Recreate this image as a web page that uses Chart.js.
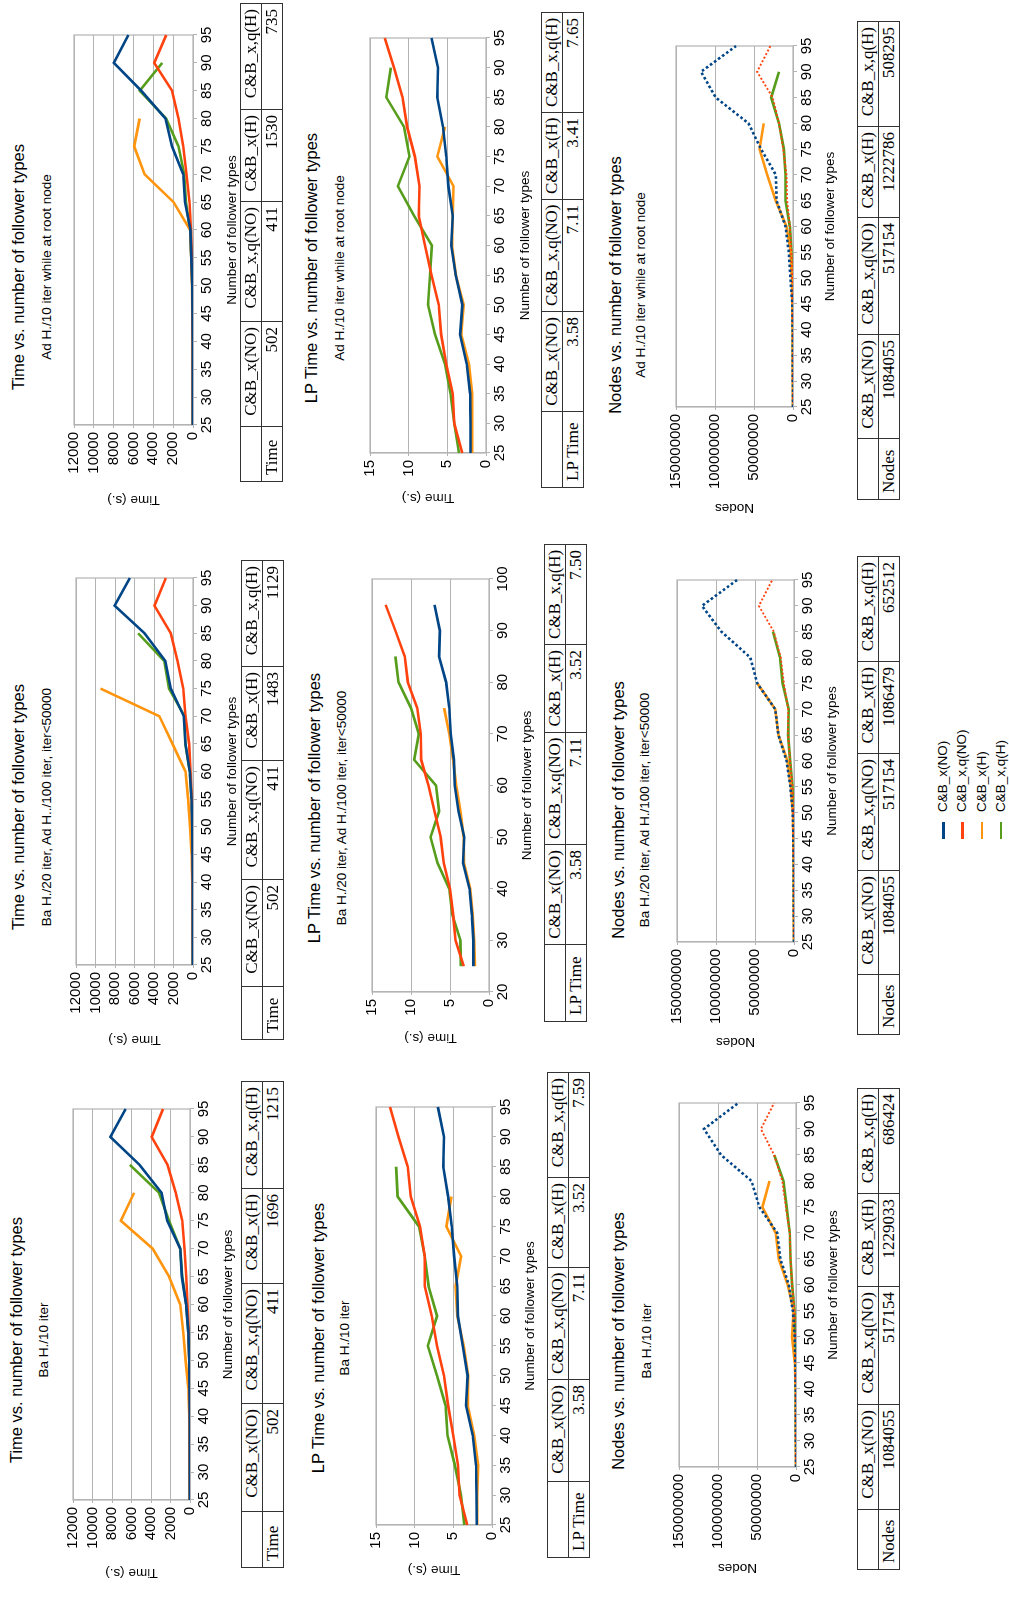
<!DOCTYPE html>
<html>
<head>
<meta charset="utf-8">
<script src="https://cdn.jsdelivr.net/npm/chart.js@4.4.1/dist/chart.umd.min.js"></script>
<style>
  html, body { margin: 0; padding: 0; background: #fff; width: 1009px; height: 1597px; overflow: hidden; }
  #page { position: absolute; left: 0; top: 0; width: 1597px; height: 1009px;
          transform-origin: 0 0; transform: translateY(1597px) rotate(-90deg);
          font-family: 'Liberation Sans', Arial, sans-serif; color: #000; }
  .ttl { position: absolute; width: 600px; text-align: center; white-space: nowrap; line-height: 1.2; }
  canvas { position: absolute; }
  table.res { position: absolute; border-collapse: collapse; table-layout: fixed;
              font-family: 'Liberation Serif', 'Times New Roman', serif; font-size: 17px; }
  table.res td { border: 1.4px solid #333; height: 20px; line-height: 20px; padding: 0 5px;
                 text-align: right; white-space: nowrap; overflow: visible; }
  table.res td.lbl { text-align: left; padding-left: 6px; }
  .leg { position: absolute; font-size: 13.5px; line-height: 18px; white-space: nowrap; }
  .leg i { position: absolute; left: 0; top: 8px; width: 17px; height: 2.5px; }
  .leg span { position: absolute; left: 27px; top: 0; }
</style>
</head>
<body>
<div id="page"></div>
<script>
// ═══ DATA ═══
const followerTypes = [25, 30, 35, 40, 45, 50, 55, 60, 65, 70, 75, 80, 85, 90, 95];
const seriesNames  = ['C&B_x(NO)', 'C&B_x,q(NO)', 'C&B_x(H)', 'C&B_x,q(H)'];
const seriesColors = ['#004586', '#ff420e', '#ff950e', '#579d1c'];

const timeTicks  = [0, 2000, 4000, 6000, 8000, 10000, 12000];
const lpTicks    = [0, 5, 10, 15];
const nodesTicks = [0, 50000000, 100000000, 150000000];
const lpBa20XTicks = [20, 30, 40, 50, 60, 70, 80, 90, 100];

// Time (s.)
const timeBa10_xNO  = [10, 15, 20, 30, 50, 80, 170, 400, 830, 1000, 2330, 2930, 5170, 8170, 6600];
const timeBa10_xqNO = [5, 10, 15, 25, 40, 70, 140, 250, 380, 560, 800, 1450, 2300, 3930, 2770];
const timeBa10_xH   = [10, 20, 40, 80, 170, 450, 700, 1000, 2150, 3830, 7100, 5730, null, null, null];
const timeBa10_xqH  = [10, 15, 20, 30, 50, 80, 170, 380, 800, 1000, 2150, 3170, 6170, null, null];

const timeBa20_xNO  = [10, 15, 20, 30, 50, 80, 160, 335, 770, 940, 2280, 2850, 4960, 8045, 6470];
const timeBa20_xqNO = [5, 10, 15, 25, 40, 70, 130, 250, 400, 770, 1000, 1600, 2280, 3955, 2780];
const timeBa20_xH   = [10, 20, 40, 80, 150, 300, 500, 770, 2100, 3450, 9490, null, null, null, null];
const timeBa20_xqH  = [10, 15, 20, 30, 50, 80, 160, 320, 800, 870, 2450, 2950, 5630, null, null];

const timeAd10_xNO  = [10, 15, 20, 30, 50, 80, 160, 260, 815, 980, 2120, 2770, 5220, 7990, 6520];
const timeAd10_xqNO = [5, 10, 15, 25, 40, 70, 120, 200, 350, 650, 980, 1470, 2120, 3910, 2700];
const timeAd10_xH   = [10, 15, 25, 40, 60, 100, 170, 280, 1960, 4890, 5930, 5380, null, null, null];
const timeAd10_xqH  = [10, 15, 20, 30, 50, 80, 160, 300, 700, 880, 1470, 2700, 5380, 3100, null];

// LP Time (s.)
const lpBa10_xNO  = [1.97, 2.0, 2.06, 2.5, 3.36, 3.15, 3.78, 4.41, 4.5, 4.9, 5.2, 5.67, 6.3, 6.2, 7.0];
const lpBa10_xqNO = [3.2, 4.2, 4.4, 5.0, 5.67, 6.2, 7.1, 7.8, 8.7, 8.7, 9.3, 10.5, 10.9, 12.1, 13.2];
const lpBa10_xH   = [1.9, 1.9, 1.8, 2.3, 3.15, 3.07, 3.66, 4.5, 4.7, 4.0, 5.9, 5.25, null, null, null];
const lpBa10_xqH  = [3.57, 4.0, 4.8, 5.75, 6.0, 7.1, 8.3, 7.1, 8.2, 8.7, 9.45, 12.2, 12.4, null, null];

const lpBa20_xNO  = [2.0, 2.0, 2.2, 2.5, 3.33, 3.17, 3.9, 4.4, 4.5, 4.9, 5.1, 5.5, 6.4, 6.3, 7.0];
const lpBa20_xqNO = [3.25, 4.3, 4.6, 5.0, 5.8, 6.2, 7.0, 7.75, 8.7, 8.75, 9.2, 10.4, 10.8, 12.0, 13.25];
const lpBa20_xH   = [1.8, 1.9, 2.1, 2.4, 3.2, 3.25, 3.67, 4.2, 4.6, 5.1, 5.75, null, null, null, null];
const lpBa20_xqH  = [3.6, 3.67, 4.7, 5.1, 6.6, 7.5, 6.4, 6.8, 9.6, 9.0, 10.0, 11.6, 12.0, null, null];

const lpAd10_xNO  = [2.0, 2.0, 2.05, 2.5, 3.35, 3.06, 3.9, 4.5, 4.3, 4.86, 5.15, 5.57, 6.3, 6.2, 7.04];
const lpAd10_xqNO = [3.06, 4.1, 4.3, 5.15, 5.8, 6.1, 7.04, 7.9, 8.7, 8.6, 9.2, 10.2, 10.8, 11.9, 13.1];
const lpAd10_xH   = [1.8, 1.8, 1.8, 2.2, 3.2, 2.9, 3.9, 4.4, 4.3, 4.2, 6.3, 5.3, null, null, null];
const lpAd10_xqH  = [3.5, 4.1, 4.6, 5.3, 6.6, 7.5, 7.25, 7.0, 9.3, 11.4, 9.9, 10.6, 12.9, 12.3, null];

// Nodes
const nodesBa10_xNO  = [50000, 100000, 200000, 400000, 800000, 1500000, 4000000, 9200000, 20000000, 24000000, 47000000, 57000000, 96000000, 118000000, 74000000];
const nodesBa10_xqNO = [30000, 60000, 100000, 200000, 400000, 800000, 2000000, 5000000, 7000000, 8000000, 13000000, 17500000, 28000000, 45000000, 28000000];
const nodesBa10_xH   = [50000, 100000, 200000, 400000, 1500000, 5000000, 3000000, 10500000, 22000000, 26000000, 43000000, 34000000, null, null, null];
const nodesBa10_xqH  = [30000, 60000, 100000, 200000, 400000, 800000, 2000000, 5000000, 7000000, 8000000, 12000000, 16000000, 28000000, null, null];

const nodesBa20_xNO  = [50000, 100000, 200000, 400000, 800000, 1500000, 4600000, 9600000, 20000000, 24000000, 47000000, 56000000, 93000000, 118000000, 73000000];
const nodesBa20_xqNO = [30000, 60000, 100000, 200000, 400000, 800000, 2000000, 5000000, 7500000, 7500000, 13000000, 17000000, 26000000, 45000000, 28000000];
const nodesBa20_xH   = [50000, 100000, 200000, 400000, 800000, 1500000, 4000000, 8300000, 20000000, 24000000, 47000000, null, null, null, null];
const nodesBa20_xqH  = [30000, 60000, 100000, 200000, 400000, 800000, 2000000, 5000000, 7500000, 6700000, 14600000, 18000000, 27000000, null, null];

const nodesAd10_xNO  = [50000, 100000, 200000, 400000, 800000, 3300000, 5400000, 9600000, 21000000, 22000000, 41000000, 57000000, 99000000, 118000000, 73000000];
const nodesAd10_xqNO = [30000, 60000, 100000, 200000, 400000, 800000, 2000000, 4000000, 7500000, 8300000, 12500000, 18000000, 26000000, 46000000, 29000000];
const nodesAd10_xH   = [50000, 100000, 200000, 400000, 800000, 1500000, 3000000, 8300000, 22000000, 33000000, 43000000, 37500000, null, null, null];
const nodesAd10_xqH  = [30000, 60000, 100000, 200000, 400000, 800000, 2000000, 4000000, 9600000, 9600000, 11700000, 18000000, 28000000, 18000000, null];

// Summary tables
const tblTimeBa10  = ['502', '411', '1696', '1215'];
const tblTimeBa20  = ['502', '411', '1483', '1129'];
const tblTimeAd10  = ['502', '411', '1530', '735'];
const tblLpBa10    = ['3.58', '7.11', '3.52', '7.59'];
const tblLpBa20    = ['3.58', '7.11', '3.52', '7.50'];
const tblLpAd10    = ['3.58', '7.11', '3.41', '7.65'];
const tblNodesBa10 = ['1084055', '517154', '1229033', '686424'];
const tblNodesBa20 = ['1084055', '517154', '1086479', '652512'];
const tblNodesAd10 = ['1084055', '517154', '1222786', '508295'];

const subBa10 = 'Ba H./10 iter';
const subAd10 = 'Ad H./10 iter while at root node';

// ═══ PANELS (layout in upright page coords) ═══
const panels = [
  { title: 'Time vs. number of follower types', sub: subBa10, yTitle: 'Time (s.)', yTicks: timeTicks,
    series: [timeBa10_xNO, timeBa10_xqNO, timeBa10_xH, timeBa10_xqH], tLabel: 'Time', tVals: tblTimeBa10,
    plot: [97, 488, 70, 190], tc: 257, tv: 17, sv: 44, xtv: 228, ytu: 24, tbl: [29, 241], cols: [56, 108, 120, 95, 107] },
  { title: 'Time vs. number of follower types', sub: 'Ba H./20 iter, Ad H../100 iter, iter<50000', yTitle: 'Time (s.)', yTicks: timeTicks,
    series: [timeBa20_xNO, timeBa20_xqNO, timeBa20_xH, timeBa20_xqH], tLabel: 'Time', tVals: tblTimeBa20,
    plot: [632, 1019, 73, 193], tc: 790, tv: 19, sv: 47, xtv: 232, ytu: 557, tbl: [557, 241], cols: [53, 107, 119, 94, 106] },
  { title: 'Time vs. number of follower types', sub: subAd10, yTitle: 'Time (s.)', yTicks: timeTicks,
    series: [timeAd10_xNO, timeAd10_xqNO, timeAd10_xH, timeAd10_xqH], tLabel: 'Time', tVals: tblTimeAd10,
    plot: [1172, 1562, 71, 193], tc: 1330, tv: 19, sv: 47, xtv: 232, ytu: 1097, tbl: [1115, 240], cols: [55, 105, 120, 92, 106] },

  { title: 'LP Time vs. number of follower types', sub: subBa10, yTitle: 'Time (s.)', yTicks: lpTicks,
    series: [lpBa10_xNO, lpBa10_xqNO, lpBa10_xH, lpBa10_xqH], tLabel: 'LP Time', tVals: tblLpBa10,
    plot: [72, 490, 373, 492], tc: 259, tv: 319, sv: 345, xtv: 530, ytu: 27, tbl: [39, 547], cols: [76, 102, 112, 90, 105] },
  { title: 'LP Time vs. number of follower types', sub: 'Ba H./20 iter, Ad H./100 iter, iter<50000', yTitle: 'Time (s.)', yTicks: lpTicks,
    series: [lpBa20_xNO, lpBa20_xqNO, lpBa20_xH, lpBa20_xqH], tLabel: 'LP Time', tVals: tblLpBa20, xLinear: true,
    plot: [605, 1018, 369, 489], tc: 789, tv: 315, sv: 342, xtv: 527, ytu: 559, tbl: [575, 544], cols: [77, 100, 112, 88, 100] },
  { title: 'LP Time vs. number of follower types', sub: subAd10, yTitle: 'Time (s.)', yTicks: lpTicks,
    series: [lpAd10_xNO, lpAd10_xqNO, lpAd10_xH, lpAd10_xqH], tLabel: 'LP Time', tVals: tblLpAd10,
    plot: [1144, 1559, 367, 486], tc: 1329, tv: 312, sv: 340, xtv: 525, ytu: 1099, tbl: [1109, 541], cols: [76, 100, 112, 87, 100] },

  { title: 'Nodes vs. number of follower types', sub: subBa10, yTitle: 'Nodes', yTicks: nodesTicks, dotted: true,
    series: [nodesBa10_xNO, nodesBa10_xqNO, nodesBa10_xH, nodesBa10_xqH], tLabel: 'Nodes', tVals: tblNodesBa10,
    plot: [130, 494, 676, 796], tc: 256, tv: 619, sv: 647, xtv: 833, ytu: 29, tbl: [27, 857], cols: [60, 105, 118, 93, 105] },
  { title: 'Nodes vs. number of follower types', sub: 'Ba H./20 iter, Ad H./100 iter, iter<50000', yTitle: 'Nodes', yTicks: nodesTicks, dotted: true,
    series: [nodesBa20_xNO, nodesBa20_xqNO, nodesBa20_xH, nodesBa20_xqH], tLabel: 'Nodes', tVals: tblNodesBa20,
    plot: [655, 1017, 674, 794], tc: 787, tv: 619, sv: 645, xtv: 832, ytu: 555, tbl: [562, 857], cols: [60, 104, 117, 92, 105] },
  { title: 'Nodes vs. number of follower types', sub: subAd10, yTitle: 'Nodes', yTicks: nodesTicks, dotted: true,
    series: [nodesAd10_xNO, nodesAd10_xqNO, nodesAd10_xH, nodesAd10_xqH], tLabel: 'Nodes', tVals: tblNodesAd10,
    plot: [1190, 1551, 673, 793], tc: 1312, tv: 616, sv: 641, xtv: 830, ytu: 1089, tbl: [1097, 857], cols: [61, 104, 117, 91, 105] }
];

// ═══ DRAWING ═══
Chart.defaults.font.family = "'Liberation Sans', Arial, sans-serif";
Chart.defaults.color = '#000';
Chart.defaults.animation = false;
const GRID = '#b3b3b3';
const page = document.getElementById('page');

// plot frame (box around the chart area)
const framePlugin = {
  id: 'frame',
  beforeDatasetsDraw(chart) {
    const a = chart.chartArea, ctx = chart.ctx;
    ctx.save();
    ctx.strokeStyle = GRID;
    ctx.lineWidth = 1.2;
    ctx.strokeRect(a.left, a.top, a.right - a.left, a.bottom - a.top);
    ctx.restore();
  }
};

function addText(text, cu, cv, size) {
  const d = document.createElement('div');
  d.className = 'ttl';
  d.textContent = text;
  d.style.fontSize = size + 'px';
  d.style.left = (cu - 300) + 'px';
  d.style.top = (cv - size * 0.6) + 'px';
  page.appendChild(d);
}

function addTable(p) {
  const t = document.createElement('table');
  t.className = 'res';
  const total = p.cols.reduce((s, w) => s + w, 0);
  t.style.left = p.tbl[0] + 'px';
  t.style.top = p.tbl[1] + 'px';
  t.style.width = total + 'px';
  const cg = document.createElement('colgroup');
  p.cols.forEach(w => { const c = document.createElement('col'); c.style.width = w + 'px'; cg.appendChild(c); });
  t.appendChild(cg);
  const head = t.insertRow();
  head.insertCell().textContent = '';
  seriesNames.forEach(n => { head.insertCell().textContent = n; });
  const row = t.insertRow();
  const l = row.insertCell(); l.textContent = p.tLabel; l.className = 'lbl';
  p.tVals.forEach(v => { row.insertCell().textContent = v; });
  page.appendChild(t);
}

function makeChart(p) {
  const [pl, pr, pt, pb] = p.plot;
  const cl = p.ytu - 10, ct = pt - 10, cr = pr + 16, cb = p.xtv + 10;
  const w = cr - cl, h = cb - ct;
  const cv = document.createElement('canvas');
  cv.width = w; cv.height = h;
  Object.assign(cv.style, { left: cl + 'px', top: ct + 'px', width: w + 'px', height: h + 'px' });
  page.appendChild(cv);

  const datasets = p.series.map((vals, i) => {
    const dotted = p.dotted && i < 2;
    return {
      label: seriesNames[i],
      data: p.xLinear ? followerTypes.map((x, k) => ({ x: x, y: vals[k] })) : vals,
      borderColor: seriesColors[i],
      backgroundColor: seriesColors[i],
      borderWidth: dotted ? (i === 0 ? 2.6 : 1.9) : 2.6,
      borderDash: dotted ? (i === 0 ? [2.6, 2.4] : [2, 2]) : [],
      pointRadius: 0, tension: 0, fill: false
    };
  });

  const xScale = {
    grid: { drawOnChartArea: false, color: GRID, tickLength: 4 },
    border: { color: GRID },
    ticks: { font: { size: 15 }, padding: 1, maxRotation: 0, autoSkip: false },
    title: { display: true, text: 'Number of follower types', font: { size: 13.5 }, padding: { top: 0, bottom: 1.9 } },
    afterFit: s => { s.height = cb - pb; }
  };
  if (p.xLinear) {
    Object.assign(xScale, { type: 'linear', min: 20, max: 100,
      afterBuildTicks: s => { s.ticks = lpBa20XTicks.map(v => ({ value: v })); } });
  } else {
    xScale.type = 'category';
  }

  new Chart(cv, {
    type: 'line',
    data: { labels: p.xLinear ? undefined : followerTypes.map(String), datasets: datasets },
    options: {
      responsive: false,
      maintainAspectRatio: false,
      layout: { padding: { left: 0, right: 16, top: 10, bottom: 0 } },
      plugins: { legend: { display: false }, tooltip: { enabled: false } },
      scales: {
        x: xScale,
        y: {
          min: 0, max: p.yTicks[p.yTicks.length - 1],
          afterBuildTicks: s => { s.ticks = p.yTicks.map(v => ({ value: v })); },
          grid: { color: GRID, tickLength: 3 },
          border: { color: GRID },
          ticks: { font: { size: 15 }, padding: 4, autoSkip: false, callback: v => String(v) },
          title: { display: true, text: p.yTitle, font: { size: 13.5 }, padding: { top: 1.9, bottom: 0 } },
          afterFit: s => { s.width = pl - cl; }
        }
      }
    },
    plugins: [framePlugin]
  });
}

panels.forEach(p => {
  addText(p.title, p.tc, p.tv, 16.5);
  addText(p.sub, p.tc, p.sv, 13.5);
  makeChart(p);
  addTable(p);
});

// legend (below the middle Nodes chart)
seriesNames.forEach((n, i) => {
  const d = document.createElement('div');
  d.className = 'leg';
  d.style.left = '758px';
  d.style.top = (934 + i * 19.3) + 'px';
  const mk = document.createElement('i');
  mk.style.background = seriesColors[i];
  const tx = document.createElement('span');
  tx.textContent = n;
  d.appendChild(mk); d.appendChild(tx);
  page.appendChild(d);
});
</script>
</body>
</html>
